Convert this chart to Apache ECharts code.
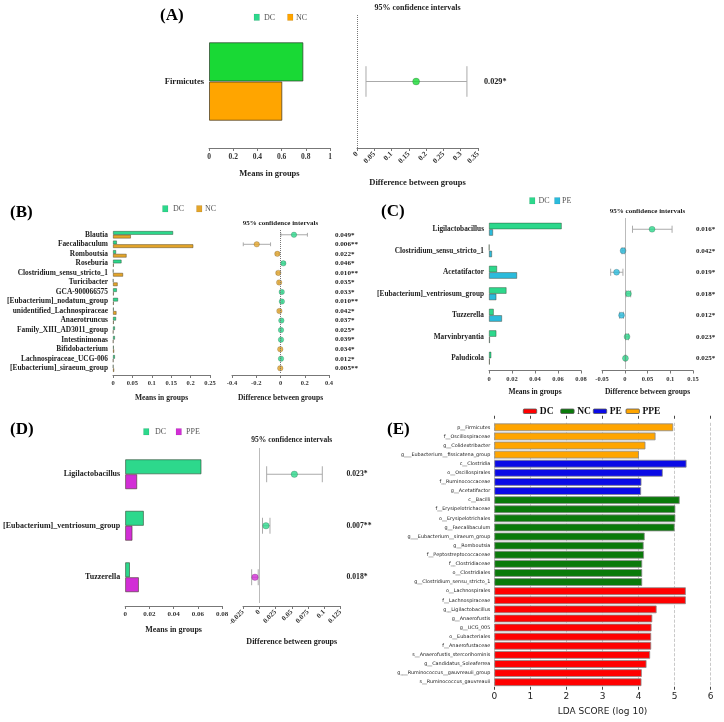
<!DOCTYPE html>
<html>
<head>
<meta charset="utf-8">
<script src="https://cdn.jsdelivr.net/npm/echarts@6/dist/echarts.min.js"></script>
<style>
html,body{margin:0;padding:0;background:#fff;}
#main{width:724px;height:722px;}
</style>
</head>
<body>
<div id="main"></div>
<script>
// ---- panel A ----
var aTaxa = ['Firmicutes'];
var aDC = [0.78];
var aNC = [0.606];
var aDiff = [0.171];
var aLow = [0.026];
var aHigh = [0.318];
var aP = ['0.029*'];

// ---- panel B ----
var bTaxa = ['Blautia', 'Faecalibaculum', 'Romboutsia', 'Roseburia', 'Clostridium_sensu_stricto_1',
  'Turicibacter', 'GCA-900066575', '[Eubacterium]_nodatum_group', 'unidentified_Lachnospiraceae',
  'Anaerotruncus', 'Family_XIII_AD3011_group', 'Intestinimonas', 'Bifidobacterium',
  'Lachnospiraceae_UCG-006', '[Eubacterium]_siraeum_group'];
var bDC = [0.155, 0.010, 0.008, 0.022, 0.001, 0.001, 0.010, 0.013, 0.002, 0.008, 0.005, 0.005, 0.002, 0.005, 0.001];
var bNC = [0.046, 0.207, 0.035, 0.002, 0.026, 0.012, 0.002, 0.002, 0.009, 0.002, 0.001, 0.001, 0.003, 0.001, 0.003];
var bDiff = [0.111, -0.196, -0.026, 0.023, -0.018, -0.011, 0.010, 0.011, -0.009, 0.007, 0.004, 0.004, -0.002, 0.004, -0.002];
var bLow = [0.003, -0.307, -0.038, 0.010, -0.030, -0.018, 0.004, 0.005, -0.014, 0.002, 0.001, 0.001, -0.004, 0.001, -0.004];
var bHigh = [0.222, -0.082, -0.014, 0.036, -0.006, -0.004, 0.016, 0.017, -0.003, 0.012, 0.007, 0.007, 0.000, 0.007, 0.000];
var bP = ['0.049*', '0.006**', '0.022*', '0.046*', '0.010**', '0.035*', '0.033*', '0.010**', '0.042*',
  '0.037*', '0.025*', '0.039*', '0.034*', '0.012*', '0.005**'];

// ---- panel C ----
var cTaxa = ['Ligilactobacillus', 'Clostridium_sensu_stricto_1', 'Acetatifactor',
  '[Eubacterium]_ventriosum_group', 'Tuzzerella', 'Marvinbryantia', 'Paludicola'];
var cDC = [0.0632, 0.0003, 0.0070, 0.0152, 0.0041, 0.0064, 0.0020];
var cPE = [0.0035, 0.0026, 0.0244, 0.0064, 0.0113, 0.0008, 0.0007];
var cDiff = [0.060, -0.0037, -0.018, 0.008, -0.007, 0.005, 0.0015];
var cLow = [0.017, -0.006, -0.031, 0.003, -0.011, 0.002, 0.0005];
var cHigh = [0.104, -0.001, -0.004, 0.013, -0.003, 0.008, 0.0025];
var cP = ['0.016*', '0.042*', '0.019*', '0.018*', '0.012*', '0.023*', '0.025*'];

// ---- panel D ----
var dTaxa = ['Ligilactobacillus', '[Eubacterium]_ventriosum_group', 'Tuzzerella'];
var dDC = [0.063, 0.0154, 0.0039];
var dPPE = [0.0099, 0.0060, 0.0113];
var dDiff = [0.054, 0.0103, -0.0066];
var dLow = [0.0114, 0.005, -0.0117];
var dHigh = [0.097, 0.0165, -0.0016];
var dP = ['0.023*', '0.007**', '0.018*'];

// ---- panel E (LEfSe) ----
var eTaxa = ['p__Firmicutes', 'f__Oscillospiraceae', 'g__Colidextribacter', 'g___Eubacterium__fissicatena_group',
  'c__Clostridia', 'o__Oscillospirales', 'f__Ruminococcaceae', 'g__Acetatifactor',
  'c__Bacilli', 'f__Erysipelotrichaceae', 'o__Erysipelotrichales', 'g__Faecalibaculum',
  'g___Eubacterium__siraeum_group', 'g__Romboutsia', 'f__Peptostreptococcaceae', 'f__Clostridiaceae',
  'o__Clostridiales', 'g__Clostridium_sensu_stricto_1',
  'o__Lachnospirales', 'f__Lachnospiraceae', 'g__Ligilactobacillus', 'g__Anaerofustis', 'g__UCG_005',
  'o__Eubacteriales', 'f__Anaerofustaceae', 's__Anaerofustis_stercorihominis', 'g__Candidatus_Soleaferrea',
  'g___Ruminococcus__gauvreauii_group', 's__Ruminococcus_gauvreauii'];
var eScores = [4.96, 4.47, 4.19, 4.01,
  5.33, 4.67, 4.08, 4.07,
  5.14, 5.02, 5.02, 5.00, 4.17, 4.14, 4.15, 4.10, 4.10, 4.10,
  5.31, 5.31, 4.50, 4.38, 4.36, 4.35, 4.35, 4.32, 4.22, 4.09, 4.08];
var eGroups = ['PPE', 'PPE', 'PPE', 'PPE',
  'PE', 'PE', 'PE', 'PE',
  'NC', 'NC', 'NC', 'NC', 'NC', 'NC', 'NC', 'NC', 'NC', 'NC',
  'DC', 'DC', 'DC', 'DC', 'DC', 'DC', 'DC', 'DC', 'DC', 'DC', 'DC'];
var eNames = ['DC', 'NC', 'PE', 'PPE'];

var eColors = { DC: '#ff0000', NC: '#0a7a0a', PE: '#0a0ae6', PPE: '#ffa500' };
var MINT = '#2dd88c', GOLD = '#e4a52a', CYAN = '#2bbbdc', MAG = '#d22ed6';

var chart = echarts.init(document.getElementById('main'));
var serif = 'Liberation Serif';

var grids = [], xAxes = [], yAxes = [], series = [], graphics = [];

function fmt(v) { return String(+v.toFixed(4)); }

function text(x, y, s, size, align, extra) {
  var st = { text: s, fontFamily: serif, fontWeight: 'bold', fontSize: size, fill: '#222',
    textAlign: align || 'left', textVerticalAlign: 'middle' };
  if (extra) for (var k in extra) st[k] = extra[k];
  graphics.push({ type: 'text', x: x, y: y, style: st, silent: true });
}
function square(x, y, w, h, color) {
  graphics.push({ type: 'rect', shape: { x: x, y: y, width: w, height: h },
    style: { fill: color, stroke: 'rgba(0,0,0,0.15)', lineWidth: 0.5 }, silent: true });
}

function panel(p) {
  var gi = grids.length;
  // bar grid
  grids.push({ left: p.bar[0], top: p.top, width: p.bar[1], height: p.height });
  xAxes.push({
    gridIndex: gi, type: 'value', min: 0, max: p.barMax, interval: p.barInt, offset: p.offset || 0,
    axisLine: { show: true, lineStyle: { color: '#777', width: 1 } },
    axisTick: { show: true, length: 3, lineStyle: { color: '#777' } },
    splitLine: { show: false },
    axisLabel: { fontFamily: serif, fontWeight: 'bold', fontSize: p.tick, color: '#333', margin: 5, formatter: fmt },
    name: 'Means in groups', nameLocation: 'middle', nameGap: p.meanGap,
    nameTextStyle: { fontFamily: serif, fontWeight: 'bold', fontSize: p.nameSize, color: '#222' }
  });
  yAxes.push({
    gridIndex: gi, type: 'category', data: p.taxa, inverse: true,
    axisLine: { show: false }, axisTick: { show: false }, splitLine: { show: false },
    axisLabel: { interval: 0, fontFamily: serif, fontWeight: 'bold', fontSize: p.label, color: '#222', margin: 5 }
  });
  series.push({
    type: 'bar', xAxisIndex: gi, yAxisIndex: gi, data: p.v1, barGap: '0%', barCategoryGap: p.gap,
    itemStyle: { color: p.c1, borderColor: 'rgba(40,60,40,0.7)', borderWidth: p.bw }
  });
  series.push({
    type: 'bar', xAxisIndex: gi, yAxisIndex: gi, data: p.v2, barGap: '0%', barCategoryGap: p.gap,
    itemStyle: { color: p.c2, borderColor: 'rgba(60,50,30,0.7)', borderWidth: p.bw }
  });

  // confidence interval grid
  var ci = gi + 1;
  grids.push({ left: p.ci[0], top: p.top, width: p.ci[1], height: p.height });
  xAxes.push({
    gridIndex: ci, type: 'value', min: p.ciMin, max: p.ciMax, interval: p.ciInt, offset: p.offset || 0,
    axisLine: { show: true, onZero: false, lineStyle: { color: '#777', width: 1 } },
    axisTick: { show: true, length: 3, lineStyle: { color: '#777' } },
    splitLine: { show: false },
    axisLabel: { fontFamily: serif, fontWeight: 'bold', fontSize: p.tick, color: '#333', margin: 5,
      rotate: p.rotate || 0, formatter: fmt },
    name: 'Difference between groups', nameLocation: 'middle', nameGap: p.diffGap,
    nameTextStyle: { fontFamily: serif, fontWeight: 'bold', fontSize: p.nameSize, color: '#222' }
  });
  yAxes.push({
    gridIndex: ci, type: 'category', data: p.pvals, inverse: true, position: 'right',
    axisLine: { show: false }, axisTick: { show: false }, splitLine: { show: false },
    axisLabel: { interval: 0, fontFamily: serif, fontWeight: 'bold', fontSize: p.label - 0.3, color: '#222', margin: p.pMargin }
  });
  var whisk = p.taxa.map(function (t, i) { return [p.low[i], i, p.high[i]]; });
  var capR = p.cap;
  series.push({
    type: 'custom', xAxisIndex: ci, yAxisIndex: ci, data: whisk, encode: { x: [0, 2], y: 1 }, z: 3,
    renderItem: function (params, api) {
      var yi = api.value(1);
      var a = api.coord([api.value(0), yi]);
      var b = api.coord([api.value(2), yi]);
      var h = api.size([0, 1])[1] * capR / 2;
      var st = { stroke: '#aaa', lineWidth: 1, fill: null };
      return { type: 'group', children: [
        { type: 'line', shape: { x1: a[0], y1: a[1], x2: b[0], y2: b[1] }, style: st },
        { type: 'line', shape: { x1: a[0], y1: a[1] - h, x2: a[0], y2: a[1] + h }, style: st },
        { type: 'line', shape: { x1: b[0], y1: b[1] - h, x2: b[0], y2: b[1] + h }, style: st }
      ] };
    }
  });
  series.push({
    type: 'scatter', xAxisIndex: ci, yAxisIndex: ci, symbolSize: p.dot, z: 4,
    data: p.diff.map(function (d, i) {
      return { value: [d, i], itemStyle: { color: d > 0 ? p.d1 : p.d2, borderColor: 'rgba(0,0,0,0.35)', borderWidth: 0.6 } };
    }),
    markLine: {
      silent: true, symbol: ['none', 'none'], label: { show: false },
      lineStyle: { type: 'dotted', color: '#777', width: 1 },
      data: [{ xAxis: 0 }]
    }
  });

  // header text
  text(p.ci[0] + p.ci[1] / 2, p.ciTitleY, '95% confidence intervals', p.nameSize - 0.5, 'center');
}

panel({ taxa: aTaxa, v1: aDC, v2: aNC, c1: '#19d935', c2: '#ffa500', d1: '#19d935', d2: '#ffa500',
  diff: aDiff, low: aLow, high: aHigh, pvals: aP,
  bar: [209, 121], ci: [357, 121], top: 15, height: 133, gap: '41%', bw: 1,
  barMax: 1, barInt: 0.2, ciMin: 0, ciMax: 0.35, ciInt: 0.05, rotate: 45,
  tick: 7.5, label: 8.5, nameSize: 8.5, meanGap: 21, diffGap: 30, pMargin: 6, dot: 7, cap: 0.23, ciTitleY: 8 });

panel({ taxa: bTaxa, v1: bDC, v2: bNC, c1: MINT, c2: GOLD, d1: MINT, d2: GOLD,
  diff: bDiff, low: bLow, high: bHigh, pvals: bP,
  bar: [113, 97], ci: [232, 97], top: 230, height: 143, offset: 2, gap: '22%', bw: 0.6,
  barMax: 0.25, barInt: 0.05, ciMin: -0.4, ciMax: 0.4, ciInt: 0.2,
  tick: 6.5, label: 7.4, nameSize: 7.5, meanGap: 19, diffGap: 19, pMargin: 6, dot: 5.5, cap: 0.4, ciTitleY: 223 });

panel({ taxa: cTaxa, v1: cDC, v2: cPE, c1: MINT, c2: CYAN, d1: MINT, d2: CYAN,
  diff: cDiff, low: cLow, high: cHigh, pvals: cP,
  bar: [489, 92], ci: [602, 91], top: 218.5, height: 150.5, offset: 1.5, gap: '40%', bw: 0.6,
  barMax: 0.08, barInt: 0.02, ciMin: -0.05, ciMax: 0.15, ciInt: 0.05,
  tick: 6.5, label: 7.3, nameSize: 7.5, meanGap: 18, diffGap: 18, pMargin: 3, dot: 6, cap: 0.33, ciTitleY: 211 });

panel({ taxa: dTaxa, v1: dDC, v2: dPPE, c1: MINT, c2: MAG, d1: MINT, d2: MAG,
  diff: dDiff, low: dLow, high: dHigh, pvals: dP,
  bar: [125, 97], ci: [243, 97.5], top: 448.5, height: 154.5, offset: 3, gap: '42%', bw: 0.8,
  barMax: 0.08, barInt: 0.02, ciMin: -0.025, ciMax: 0.125, ciInt: 0.025, rotate: 45,
  tick: 7, label: 8, nameSize: 8, meanGap: 20, diffGap: 32, pMargin: 6, dot: 6.5, cap: 0.31, ciTitleY: 440 });

// ---- panel E grid ----
var ei = grids.length;
grids.push({ left: 494.3, top: 422.75, width: 216.4, height: 264 });
xAxes.push({
  gridIndex: ei, type: 'value', min: 0, max: 6, interval: 1,
  axisLine: { show: false },
  axisTick: { show: true, length: 3, lineStyle: { color: '#444' } },
  splitLine: { show: true, lineStyle: { type: 'dashed', color: '#bbb', width: 0.8 } },
  axisLabel: { fontFamily: 'DejaVu Sans', fontSize: 9, color: '#222', margin: 5 },
  name: 'LDA SCORE (log 10)', nameLocation: 'middle', nameGap: 20,
  nameTextStyle: { fontFamily: 'DejaVu Sans', fontSize: 9, color: '#222' }
});
xAxes.push({
  gridIndex: ei, type: 'value', min: 0, max: 6, interval: 1, position: 'top', offset: 4,
  axisLine: { show: false }, axisTick: { show: true, length: 3, lineStyle: { color: '#444' } },
  splitLine: { show: false }, axisLabel: { show: false }
});
yAxes.push({
  gridIndex: ei, type: 'category', data: eTaxa, inverse: true,
  axisLine: { show: false }, axisTick: { show: false }, splitLine: { show: false },
  axisLabel: { interval: 0, fontFamily: 'DejaVu Sans', fontSize: 4.9, color: '#222', margin: 4 }
});
series.push({
  type: 'bar', xAxisIndex: ei, yAxisIndex: ei, barCategoryGap: '15%', z: 3,
  data: eScores.map(function (v, i) {
    return { value: v, itemStyle: { color: eColors[eGroups[i]] } };
  }),
  itemStyle: { borderColor: '#8a8a8a', borderWidth: 0.8 }
});

// ---- panel labels ----
text(160, 16, '(A)', 17, 'left', { fill: '#000' });
text(10, 213, '(B)', 17, 'left', { fill: '#000' });
text(381, 212, '(C)', 17, 'left', { fill: '#000' });
text(10, 430, '(D)', 17, 'left', { fill: '#000' });
text(387, 430, '(E)', 17, 'left', { fill: '#000' });

// ---- legends A-D ----
var legStyle = { fill: '#555', fontWeight: 'normal' };
square(254, 14, 5.5, 6.5, MINT); text(264, 17.5, 'DC', 8, 'left', legStyle);
square(287.5, 14, 5.5, 6.5, '#ffa500'); text(296, 17.5, 'NC', 8, 'left', legStyle);
square(162.5, 205.5, 5.5, 6.5, MINT); text(173, 209, 'DC', 8, 'left', legStyle);
square(196.5, 205.5, 5.5, 6.5, GOLD); text(205, 209, 'NC', 8, 'left', legStyle);
square(529.5, 197.5, 5.5, 6.5, MINT); text(538.5, 201, 'DC', 8, 'left', legStyle);
square(554.5, 197.5, 5.5, 6.5, CYAN); text(562, 201, 'PE', 8, 'left', legStyle);
square(143.5, 428.5, 5.5, 6.5, MINT); text(155, 432, 'DC', 8, 'left', legStyle);
square(176, 428.5, 5.5, 6.5, MAG); text(186, 432, 'PPE', 8, 'left', legStyle);

// ---- legend E ----
var eLegX = [523.3, 560.7, 593.3, 626];
eNames.forEach(function (n, i) {
  graphics.push({ type: 'rect', shape: { x: eLegX[i], y: 409, width: 13.4, height: 4.5, r: 1 },
    style: { fill: eColors[n], stroke: '#555', lineWidth: 0.8 }, silent: true });
  text(eLegX[i] + 16.5, 411.3, n, 9.5, 'left', { fill: '#111' });
});

chart.setOption({
  animation: false,
  backgroundColor: '#fff',
  grid: grids,
  xAxis: xAxes,
  yAxis: yAxes,
  series: series,
  graphic: { elements: graphics }
});
</script>
</body>
</html>
